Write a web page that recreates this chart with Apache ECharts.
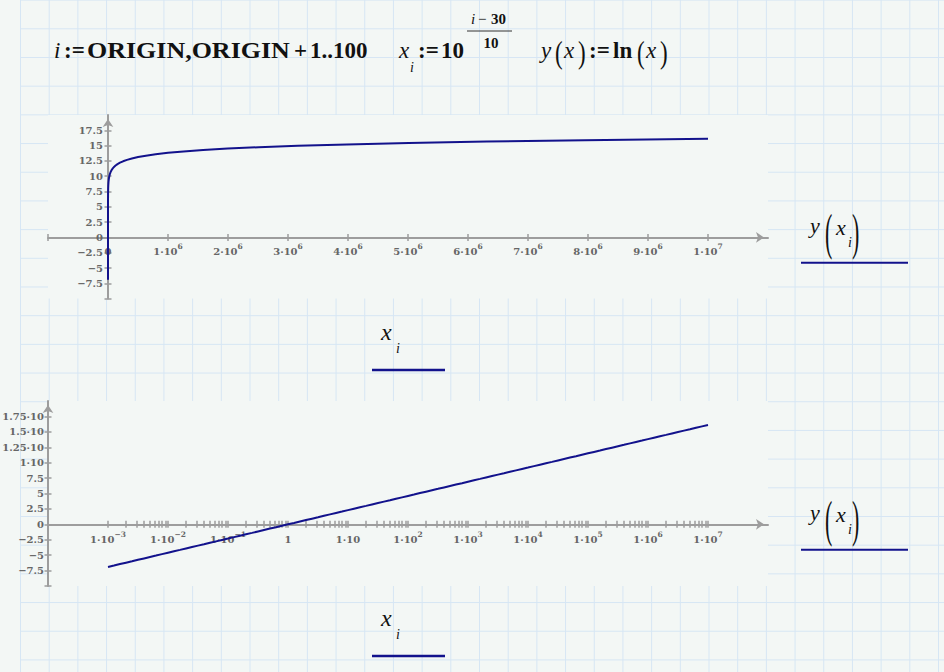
<!DOCTYPE html>
<html>
<head>
<meta charset="utf-8">
<script src="https://cdn.jsdelivr.net/npm/echarts@6/dist/echarts.min.js"></script>
<style>
html,body{margin:0;padding:0;background:#f3f7f5;}
#wrap{position:relative;width:944px;height:672px;overflow:hidden;background:#f3f7f5;}
#paper{position:absolute;left:20px;top:0;right:0;bottom:0;
  background-image:linear-gradient(to right,#d6e6f4 1px,transparent 1px),linear-gradient(to bottom,#d6e6f4 1px,transparent 1px);
  background-size:28.7px 28.7px;background-position:0 -0.4px;}
#chart{position:absolute;left:0;top:0;width:944px;height:672px;}
</style>
</head>
<body>
<div id="wrap"><div id="paper"></div><div id="chart"></div></div>
<script>
// ---- data (x_i = 10^e, y = ln(x_i)) ----
const xExponents = [
  -3,-2.9,-2.8,-2.7,-2.6,-2.5,-2.4,-2.3,-2.2,-2.1,
  -2,-1.9,-1.8,-1.7,-1.6,-1.5,-1.4,-1.3,-1.2,-1.1,
  -1,-0.9,-0.8,-0.7,-0.6,-0.5,-0.4,-0.3,-0.2,-0.1,
  0,0.1,0.2,0.3,0.4,0.5,0.6,0.7,0.8,0.9,
  1,1.1,1.2,1.3,1.4,1.5,1.6,1.7,1.8,1.9,
  2,2.1,2.2,2.3,2.4,2.5,2.6,2.7,2.8,2.9,
  3,3.1,3.2,3.3,3.4,3.5,3.6,3.7,3.8,3.9,
  4,4.1,4.2,4.3,4.4,4.5,4.6,4.7,4.8,4.9,
  5,5.1,5.2,5.3,5.4,5.5,5.6,5.7,5.8,5.9,
  6,6.1,6.2,6.3,6.4,6.5,6.6,6.7,6.8,6.9,
  7
];
const yValues = [
  -6.908,-6.678,-6.447,-6.217,-5.987,-5.756,-5.526,-5.296,-5.066,-4.835,
  -4.605,-4.375,-4.145,-3.914,-3.684,-3.454,-3.224,-2.993,-2.763,-2.533,
  -2.303,-2.072,-1.842,-1.612,-1.382,-1.151,-0.921,-0.691,-0.461,-0.230,
  0,0.230,0.461,0.691,0.921,1.151,1.382,1.612,1.842,2.072,
  2.303,2.533,2.763,2.993,3.224,3.454,3.684,3.914,4.145,4.375,
  4.605,4.835,5.066,5.296,5.526,5.756,5.987,6.217,6.447,6.677,
  6.908,7.138,7.368,7.599,7.829,8.059,8.289,8.520,8.750,8.980,
  9.210,9.441,9.671,9.901,10.131,10.362,10.592,10.822,11.052,11.283,
  11.513,11.743,11.973,12.204,12.434,12.664,12.894,13.125,13.355,13.585,
  13.816,14.046,14.276,14.506,14.737,14.967,15.197,15.427,15.658,15.888,
  16.118
];

// ---- tick labels ----
const topXLabelValues = [0,1e6,2e6,3e6,4e6,5e6,6e6,7e6,8e6,9e6,1e7];
const topXLabelTexts  = ['0','1·10^6','2·10^6','3·10^6','4·10^6','5·10^6','6·10^6','7·10^6','8·10^6','9·10^6','1·10^7'];
const topXTickValues  = [-1e6,0,1e6,2e6,3e6,4e6,5e6,6e6,7e6,8e6,9e6,1e7];

const yTickValues  = [-10,-7.5,-5,-2.5,0,2.5,5,7.5,10,12.5,15,17.5];
const yLabelValues = [-7.5,-5,-2.5,0,2.5,5,7.5,10,12.5,15,17.5];
const topYLabelTexts    = ['−7.5','−5','−2.5','0','2.5','5','7.5','10','12.5','15','17.5'];
const bottomYLabelTexts = ['−7.5','−5','−2.5','0','2.5','5','7.5','1·10','1.25·10','1.5·10','1.75·10'];

const logDecades = [-3,-2,-1,0,1,2,3,4,5,6,7];
const logLabelTexts = ['1·10^−3','1·10^−2','1·10^−1','1','1·10','1·10^2','1·10^3','1·10^4','1·10^5','1·10^6','1·10^7'];
const minorMultipliers = [1,2,3,4,5,6,7,8,9];

// ---- styles ----
const AXIS = '#9d9d9d';
const LABEL = '#666666';
const LINE = '#12128c';
const TICKFONT = 'DejaVu Serif';
const MATH = "'Liberation Serif', 'Times New Roman', serif";

function richLabel(s) {
  const m = s.match(/^(.*)\^(.+)$/);
  if (!m) return '{b|' + s + '}';
  return '{b|' + m[1] + '}{sup|' + m[2] + '}';
}
const richStyles = {
  b: {fontSize: 10, fontWeight: 'bold', fontFamily: TICKFONT, color: LABEL, lineHeight: 14, verticalAlign: 'bottom'},
  sup: {fontSize: 7.5, fontWeight: 'bold', fontFamily: TICKFONT, color: LABEL, lineHeight: 8, verticalAlign: 'top'}
};
function lookup(vals, texts) {
  return function (v) {
    for (let k = 0; k < vals.length; k++) if (Math.abs(vals[k] - v) < 1e-9 * Math.max(1, Math.abs(v))) return texts[k];
    return '';
  };
}
const bottomTickValues = [];
logDecades.forEach(function (d) {
  if (d === 7) { bottomTickValues.push(7); return; }
  minorMultipliers.forEach(function (m) { bottomTickValues.push(d + Math.log10(m)); });
});

function axisLineStyle() {
  return {show: true, onZero: false, lineStyle: {color: AXIS, width: 2},
          symbol: ['none', 'arrow'], symbolSize: [8, 8], symbolOffset: [0, -4]};
}
const labelBase = {fontFamily: TICKFONT, fontWeight: 'bold', fontSize: 10, color: LABEL};
const tickStyle = {color: AXIS, width: 1.5};
const TL = 3.5;

// companion axis: only draws the other half of each crossing tick
function companion(base, position, offset) {
  return Object.assign({}, base, {
    position: position, offset: offset,
    axisLine: {show: false, onZero: false},
    axisLabel: {show: false},
    axisTick: {show: true, length: TL, lineStyle: tickStyle, customValues: base.axisTick.customValues},
    splitLine: {show: false}
  });
}

// ---- text helpers (worksheet math text) ----
function t(text, x, y, size, o) {
  o = o || {};
  return {type: 'text', x: x, y: y, scaleX: o.sx || 1, scaleY: o.sy || 1, z: 100, silent: true,
    style: {text: text, fill: o.fill || '#111', fontSize: size, fontFamily: MATH,
      fontStyle: o.italic ? 'italic' : 'normal', fontWeight: o.bold ? 'bold' : 'normal',
      align: o.align || 'left', verticalAlign: 'middle'}};
}
function hline(x1, x2, y, w, color) {
  return {type: 'line', z: 100, silent: true, shape: {x1: x1, y1: y, x2: x2, y2: y},
    style: {stroke: color, lineWidth: w}};
}
function legendLabel(dy) {
  return [
    t('y', 810, 225.3 + dy, 22, {italic: true}),
    t('(', 825, 231.4 + dy, 22, {sy: 2.3}),
    t('x', 836, 227.6 + dy, 22, {italic: true}),
    t('i', 848, 242.3 + dy, 14, {italic: true}),
    t(')', 852, 231.4 + dy, 22, {sy: 2.3}),
    hline(801, 908, 262.7 + dy, 2, LINE)
  ];
}
function xLabel(dy) {
  return [
    t('x', 381, 331.9 + dy, 24, {italic: true}),
    t('i', 396, 348.3 + dy, 14, {italic: true}),
    hline(372, 445, 370 + dy, 2.5, LINE)
  ];
}
const graphics = [].concat(
  [
    t('i', 54, 50, 23, {italic: true}),
    t(':=', 64, 50, 23, {bold: true}),
    t('ORIGIN,ORIGIN', 87, 50, 23, {bold: true, sx: 1.13}),
    t('+', 294, 50, 23, {bold: true}),
    t('1..100', 310, 50, 23, {bold: true}),
    t('x', 399, 50, 23, {italic: true}),
    t('i', 410, 67, 14, {italic: true}),
    t(':=', 418, 50, 23, {bold: true}),
    t('10', 441, 50, 23, {bold: true}),
    t('i', 471, 19, 15, {italic: true}),
    t('−', 478, 19, 15),
    t('30', 491, 19, 15, {bold: true}),
    hline(467, 512, 31, 1, '#333'),
    t('10', 491, 43, 15, {align: 'center', bold: true}),
    t('y', 541, 50, 23, {italic: true}),
    t('(', 555, 52, 23, {sy: 1.4}),
    t('x', 564, 50, 23, {italic: true}),
    t(')', 578, 52, 23, {sy: 1.4}),
    t(':=', 589, 50, 23, {bold: true}),
    t('ln', 613, 50, 23, {bold: true}),
    t('(', 637, 52, 23, {sy: 1.4}),
    t('x', 646, 50, 23, {italic: true}),
    t(')', 660, 52, 23, {sy: 1.4})
  ],
  legendLabel(0), legendLabel(287), xLabel(0), xLabel(286)
);

const topX = {gridIndex: 0, type: 'value', position: 'bottom', offset: -61.2, min: -1e6, max: 1.1e7, interval: 1e6,
  axisLine: axisLineStyle(),
  axisTick: {show: true, length: TL, lineStyle: tickStyle, customValues: topXTickValues},
  axisLabel: Object.assign({}, labelBase, {margin: 5, customValues: topXLabelValues,
     formatter: function (v) { return richLabel(lookup(topXLabelValues, topXLabelTexts)(v)); }, rich: richStyles}),
  splitLine: {show: false}};
const bottomX = {gridIndex: 1, type: 'value', position: 'bottom', offset: -61.7, min: -4, max: 8, interval: 1,
  axisLine: axisLineStyle(),
  axisTick: {show: true, length: TL, lineStyle: tickStyle, customValues: bottomTickValues},
  axisLabel: Object.assign({}, labelBase, {margin: 6, customValues: logDecades,
     formatter: function (v) { return richLabel(lookup(logDecades, logLabelTexts)(v)); }, rich: richStyles}),
  splitLine: {show: false}};
const topY = {gridIndex: 0, type: 'value', position: 'left', offset: -60, min: -10, max: 20, interval: 2.5,
  axisLine: axisLineStyle(),
  axisTick: {show: true, length: TL, lineStyle: tickStyle, customValues: yTickValues},
  axisLabel: Object.assign({}, labelBase, {margin: 5, customValues: yLabelValues,
     formatter: lookup(yLabelValues, topYLabelTexts)}),
  splitLine: {show: false}};
const bottomY = {gridIndex: 1, type: 'value', position: 'left', offset: 0, min: -10, max: 20, interval: 2.5,
  axisLine: axisLineStyle(),
  axisTick: {show: true, length: TL, lineStyle: tickStyle, customValues: yTickValues},
  axisLabel: Object.assign({}, labelBase, {margin: 4, customValues: yLabelValues,
     formatter: lookup(yLabelValues, bottomYLabelTexts)}),
  splitLine: {show: false}};

const chart = echarts.init(document.getElementById('chart'), null, {renderer: 'svg'});
chart.setOption({
  animation: false,
  backgroundColor: 'transparent',
  grid: [
    {left: 48, right: 176, top: 115, bottom: 373.4, show: true, backgroundColor: '#f3f7f5', borderWidth: 0, outerBoundsMode: 'none', containLabel: false},
    {left: 48, right: 176, top: 401, bottom: 86, show: true, backgroundColor: '#f3f7f5', borderWidth: 0, outerBoundsMode: 'none', containLabel: false}
  ],
  xAxis: [
    topX, bottomX,
    companion(topX, 'top', -122.4),
    companion(bottomX, 'top', -123.3)
  ],
  yAxis: [
    topY, bottomY,
    companion(topY, 'right', -660),
    companion(bottomY, 'right', -720)
  ],
  series: [
    {type: 'line', xAxisIndex: 0, yAxisIndex: 0, showSymbol: false, symbol: 'none',
     data: xExponents.map(function (e, k) { return [Math.pow(10, e), yValues[k]]; }),
     lineStyle: {color: LINE, width: 2}, itemStyle: {color: LINE}, z: 5},
    {type: 'line', xAxisIndex: 1, yAxisIndex: 1, showSymbol: false, symbol: 'none',
     data: xExponents.map(function (e, k) { return [e, yValues[k]]; }),
     lineStyle: {color: LINE, width: 2}, itemStyle: {color: LINE}, z: 5}
  ],
  graphic: graphics
});
</script>
</body>
</html>
